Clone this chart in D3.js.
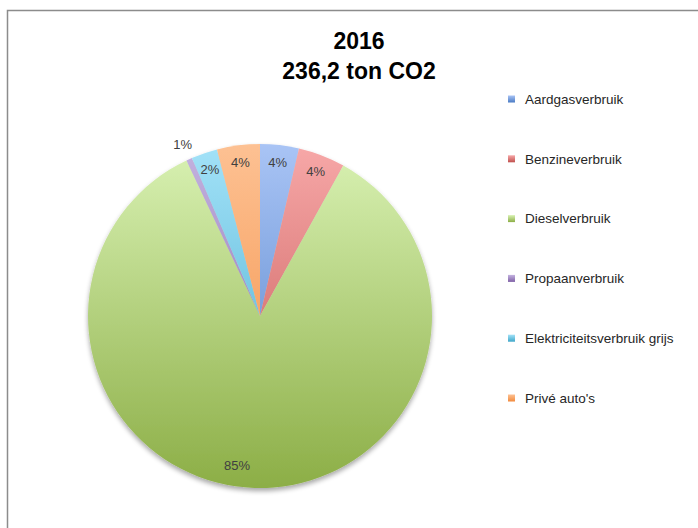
<!DOCTYPE html>
<html>
<head>
<meta charset="utf-8">
<script src="https://cdn.jsdelivr.net/npm/d3@7"></script>
<style>
	body { margin: 0; background: #fff; }
	svg { display: block; }
</style>
</head>
<body>
<div id="chart"></div>
<script>
	// data (ton CO2; total 236,2)
	var categories = ["Aardgasverbruik", "Benzineverbruik", "Dieselverbruik", "Propaanverbruik", "Elektriciteitsverbruik grijs", "Privé auto's"];
	var values = [8.6, 10.4, 200.6, 1.3, 5.8, 9.5];
	var lightColors = ["#a9c4f5", "#f7a8a8", "#d9f2b4", "#c4b3e0", "#a3e2f8", "#fdc193"];
	var darkColors = ["#4a7bc4", "#c0504d", "#8cae46", "#7f60a6", "#3fa6c9", "#f28a3c"];
	var titleLines = ["2016", "236,2 ton CO2"];

	var width = 698,
		height = 528,
		cx = 260,
		cy = 316,
		radius = 172;

	var svg = d3.select("#chart").append("svg")
		.attr("width", width)
		.attr("height", height);

	var defs = svg.append("defs");

	// excel-ish vertical gradient, one per slice, spanning the whole pie (pie coords)
	categories.forEach(function(c, i) {
		var g = defs.append("linearGradient")
			.attr("id", "grad" + i)
			.attr("gradientUnits", "userSpaceOnUse")
			.attr("x1", 0).attr("y1", -radius)
			.attr("x2", 0).attr("y2", radius);
		g.append("stop").attr("offset", "0%").attr("stop-color", lightColors[i]);
		g.append("stop").attr("offset", "100%").attr("stop-color", darkColors[i]);

		var lg = defs.append("linearGradient")
			.attr("id", "lgrad" + i)
			.attr("x1", 0).attr("y1", 0).attr("x2", 0).attr("y2", 1);
		lg.append("stop").attr("offset", "0%").attr("stop-color", lightColors[i]);
		lg.append("stop").attr("offset", "100%").attr("stop-color", darkColors[i]);
	});

	var shadow = defs.append("filter")
		.attr("id", "shadow")
		.attr("x", "-10%").attr("y", "-10%")
		.attr("width", "120%").attr("height", "125%");
	shadow.append("feGaussianBlur").attr("in", "SourceAlpha").attr("stdDeviation", 2.5).attr("result", "blur");
	shadow.append("feOffset").attr("in", "blur").attr("dx", 0).attr("dy", 3).attr("result", "off");
	shadow.append("feComponentTransfer").attr("in", "off").attr("result", "soft")
		.append("feFuncA").attr("type", "linear").attr("slope", 0.35);
	var merge = shadow.append("feMerge");
	merge.append("feMergeNode").attr("in", "soft");
	merge.append("feMergeNode").attr("in", "SourceGraphic");

	// chart area border (cropped at the right and bottom)
	svg.append("rect")
		.attr("x", 7.5)
		.attr("y", 10.5)
		.attr("width", 720)
		.attr("height", 560)
		.attr("fill", "none")
		.attr("stroke", "#8c8c8c")
		.attr("stroke-width", 1.5);

	// title
	var title = svg.append("text")
		.attr("text-anchor", "middle")
		.attr("font-family", "'Liberation Sans', Arial, sans-serif")
		.attr("font-weight", "bold")
		.attr("font-size", 23)
		.attr("fill", "#000");
	titleLines.forEach(function(line, i) {
		title.append("tspan")
			.attr("x", 359)
			.attr("y", 49 + i * 30)
			.text(line);
	});

	var pie = d3.pie().sort(null).value(function(d) { return d; });
	var arcs = pie(values);
	var total = d3.sum(values);

	var arc = d3.arc().innerRadius(0).outerRadius(radius);
	var labelArc = d3.arc().innerRadius(155).outerRadius(155);
	var outerLabelArc = d3.arc().innerRadius(188).outerRadius(188);

	var pieG = svg.append("g")
		.attr("transform", "translate(" + cx + "," + cy + ")");

	pieG.append("g")
		.attr("filter", "url(#shadow)")
		.selectAll("path")
		.data(arcs)
		.enter()
		.append("path")
		.attr("d", arc)
		.attr("fill", function(d, i) { return "url(#grad" + i + ")"; });

	pieG.selectAll("text.pct")
		.data(arcs)
		.enter()
		.append("text")
		.attr("class", "pct")
		.attr("text-anchor", "middle")
		.attr("dy", "0.35em")
		.attr("font-family", "'Liberation Sans', Arial, sans-serif")
		.attr("font-size", 13)
		.attr("fill", "#404040")
		.attr("transform", function(d) {
			var share = d.value / total;
			var p = share < 0.01 ? outerLabelArc.centroid(d) : labelArc.centroid(d);
			if (share > 0.5) p = [p[0] - 18, p[1] - 5];
			return "translate(" + p + ")";
		})
		.text(function(d) { return Math.round(d.value / total * 100) + "%"; });

	// legend
	var legend = svg.append("g")
		.attr("transform", "translate(508,99)");

	var item = legend.selectAll("g")
		.data(categories)
		.enter()
		.append("g")
		.attr("transform", function(d, i) { return "translate(0," + (i * 59.8) + ")"; });

	item.append("rect")
		.attr("x", 0)
		.attr("y", -3.5)
		.attr("width", 7)
		.attr("height", 7)
		.attr("fill", function(d, i) { return "url(#lgrad" + i + ")"; });

	item.append("text")
		.attr("x", 17)
		.attr("dy", "0.35em")
		.attr("font-family", "'Liberation Sans', Arial, sans-serif")
		.attr("font-size", 13.5)
		.attr("fill", "#262626")
		.text(function(d) { return d; });
</script>
</body>
</html>
